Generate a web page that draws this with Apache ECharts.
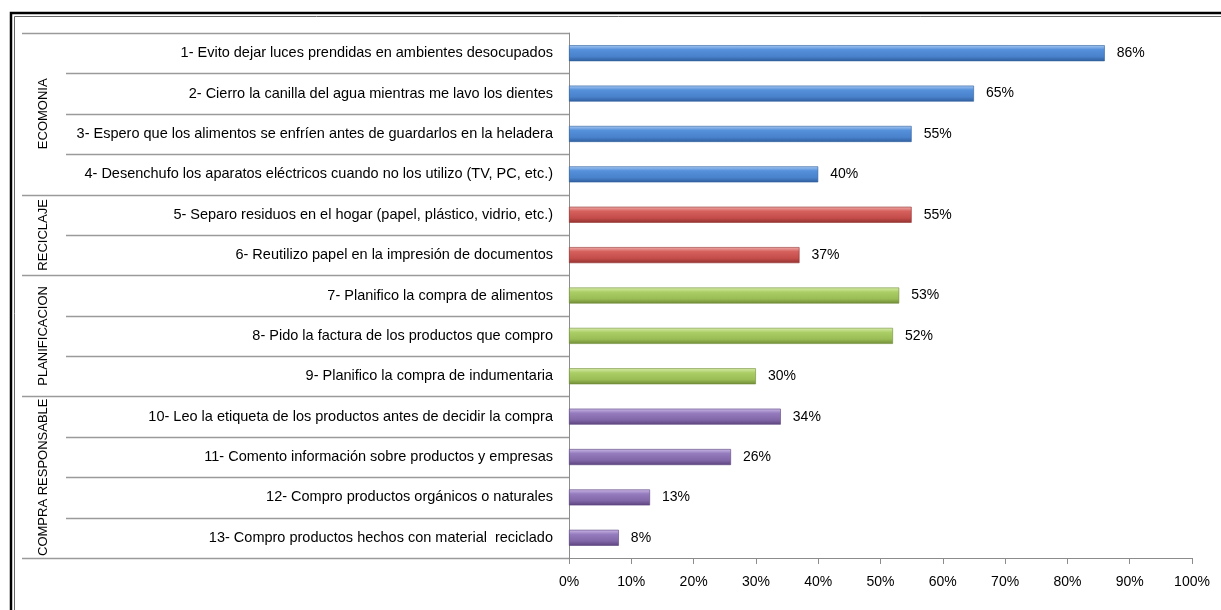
<!DOCTYPE html>
<html>
<head>
<meta charset="utf-8">
<style>
html,body{margin:0;padding:0;background:#fff;}
#chart{width:1221px;height:610px;}
</style>
<script src="https://cdn.jsdelivr.net/npm/echarts@6/dist/echarts.min.js"></script>
</head>
<body>
<div id="chart"></div>
<script>
// Habitos de consumo: porcentaje de respuestas por practica, agrupadas por tema
const categories = [
  '1- Evito dejar luces prendidas en ambientes desocupados',
  '2- Cierro la canilla del agua mientras me lavo los dientes',
  '3- Espero que los alimentos se enfríen antes de guardarlos en la heladera',
  '4- Desenchufo los aparatos eléctricos cuando no los utilizo (TV, PC, etc.)',
  '5- Separo residuos en el hogar (papel, plástico, vidrio, etc.)',
  '6- Reutilizo papel en la impresión de documentos',
  '7- Planifico la compra de alimentos',
  '8- Pido la factura de los productos que compro',
  '9- Planifico la compra de indumentaria',
  '10- Leo la etiqueta de los productos antes de decidir la compra',
  '11- Comento información sobre productos y empresas',
  '12- Compro productos orgánicos o naturales',
  '13- Compro productos hechos con material  reciclado'
];
const values = [86, 65, 55, 40, 55, 37, 53, 52, 30, 34, 26, 13, 8];
const groupNames = ['ECOMONIA', 'RECICLAJE', 'PLANIFICACION', 'COMPRA RESPONSABLE'];
const groupSizes = [4, 2, 3, 4];
const xTicks = [0, 10, 20, 30, 40, 50, 60, 70, 80, 90, 100];

// colour ramps per group: highlight, main, shadow
const groupColors = [
  ['#a6c8f2', '#5590da', '#4a82cc', '#2f5f9e'],
  ['#f0aeac', '#d5605c', '#c44d4a', '#933230'],
  ['#d8eeac', '#acce66', '#9bbd56', '#708c36'],
  ['#cbb8e6', '#957cbe', '#8267a8', '#5b437d']
];

const FONT = 'Liberation Sans';
const FS = 14.5;

function barFill(c) {
  return {
    type: 'linear', x: 0, y: 0, x2: 0, y2: 1,
    colorStops: [
      { offset: 0, color: c[0] },
      { offset: 0.28, color: c[1] },
      { offset: 0.7, color: c[2] },
      { offset: 1, color: c[3] }
    ]
  };
}

const groupOfRow = [];
groupSizes.forEach((n, g) => { for (let i = 0; i < n; i++) groupOfRow.push(g); });

const barData = values.map((v, i) => ({
  value: v,
  itemStyle: { color: barFill(groupColors[groupOfRow[i]]), borderColor: groupColors[groupOfRow[i]][3], borderWidth: 0.6 }
}));

const chart = echarts.init(document.getElementById('chart'), null, { renderer: 'canvas' });

chart.setOption({
  animation: false,
  backgroundColor: '#fff',
  grid: { left: 569, right: 29, top: 33, bottom: 52, containLabel: false },
  xAxis: {
    type: 'value', min: 0, max: 100, interval: 10,
    axisLine: { show: true, lineStyle: { color: '#8c8c8c', width: 1 } },
    axisTick: { show: true, length: 6, lineStyle: { color: '#8c8c8c' } },
    axisLabel: { formatter: v => xTicks.includes(v) ? v + '%' : '', color: '#000', fontFamily: FONT, fontSize: 14, margin: 17 },
    splitLine: { show: false }
  },
  yAxis: {
    type: 'category', inverse: true, data: categories,
    axisLine: { show: true, lineStyle: { color: '#8c8c8c', width: 1 } },
    axisTick: { show: false },
    axisLabel: { color: '#000', fontFamily: FONT, fontSize: FS, margin: 16, padding: [2, 0, 0, 0] }
  },
  series: [{
    type: 'bar',
    data: barData,
    barWidth: 16,
    label: {
      show: true, position: 'right', distance: 12,
      formatter: p => p.value + '%',
      color: '#000', fontFamily: FONT, fontSize: 14
    }
  }]
});

// table lines, group captions and frame, positioned from the axis scales
function drawTable() {
  const axisX = chart.convertToPixel({ xAxisIndex: 0 }, 0);
  const centers = categories.map(c => chart.convertToPixel({ yAxisIndex: 0 }, c));
  const step = centers[1] - centers[0];
  const bounds = [centers[0] - step / 2];
  centers.forEach(c => bounds.push(c + step / 2));

  const elements = [];
  const groupStart = [0];
  groupSizes.forEach((n, g) => groupStart.push(groupStart[g] + n));

  bounds.forEach((y, i) => {
    const isGroup = groupStart.includes(i);
    elements.push({
      type: 'line', silent: true,
      shape: { x1: isGroup ? 22 : 66, y1: Math.round(y) + 0.5, x2: axisX, y2: Math.round(y) + 0.5 },
      style: { stroke: '#9a9a9a', lineWidth: 1.5 }
    });
  });

  groupNames.forEach((name, g) => {
    const yTop = bounds[groupStart[g]];
    const yBot = bounds[groupStart[g + 1]];
    elements.push({
      type: 'text', silent: true,
      x: 43, y: (yTop + yBot) / 2, rotation: Math.PI / 2,
      style: { text: name, fill: '#000', font: '13px "' + FONT + '"', align: 'center', verticalAlign: 'middle' }
    });
  });

  // double frame around the whole chart (right and bottom edges run off the page)
  elements.push({
    type: 'rect', silent: true,
    shape: { x: 11, y: 13, width: 1240, height: 640 },
    style: { fill: null, stroke: '#000', lineWidth: 2.5 }
  });
  elements.push({
    type: 'rect', silent: true,
    shape: { x: 14.5, y: 16.5, width: 1240, height: 640 },
    style: { fill: null, stroke: '#666', lineWidth: 1 }
  });

  chart.setOption({ graphic: { elements } });
}
drawTable();
</script>
</body>
</html>
